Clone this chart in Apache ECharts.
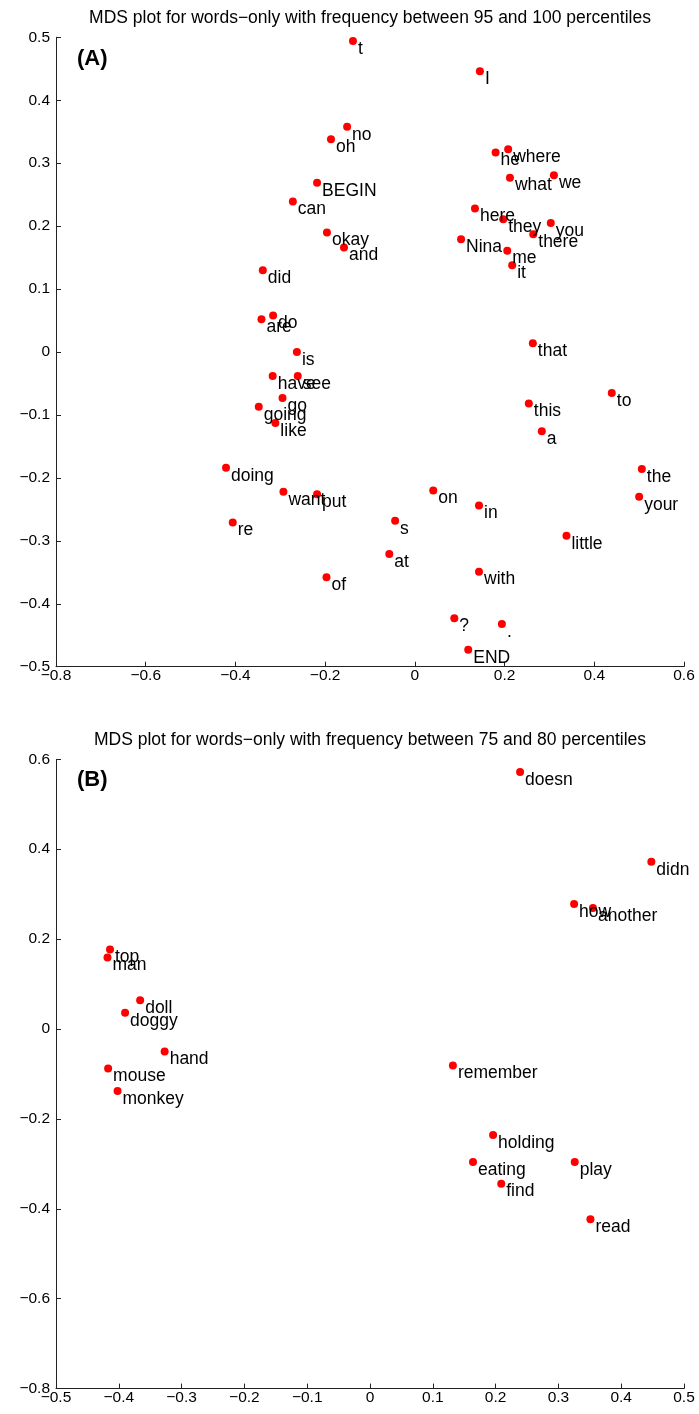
<!DOCTYPE html>
<html>
<head>
<meta charset="utf-8">
<script src="https://cdn.jsdelivr.net/npm/echarts@6/dist/echarts.min.js"></script>
<style>
html,body{margin:0;padding:0;background:#fff;}
#chart{width:699px;height:1414px;}
</style>
</head>
<body>
<div id="chart"></div>
<script>
// ---- Panel A data ----
const titleA = 'MDS plot for words\u2212only with frequency between 95 and 100 percentiles';
const wordsA = ['t','I','no','oh','BEGIN','can','okay','and','did','he','where','what','we','here','they','you','there','Nina','me','it','are','do','is','have','see','go','going','like','doing','that','this','to','a','the','your','on','in','s','little','want','put','re','at','of','with','?','.','END'];
const xA = [-0.138,0.145,-0.151,-0.187,-0.218,-0.272,-0.196,-0.158,-0.339,0.180,0.208,0.212,0.310,0.134,0.197,0.303,0.264,0.103,0.206,0.217,-0.342,-0.316,-0.263,-0.317,-0.261,-0.295,-0.348,-0.311,-0.421,0.263,0.254,0.439,0.283,0.506,0.500,0.041,0.143,-0.044,0.338,-0.293,-0.218,-0.406,-0.057,-0.197,0.143,0.088,0.194,0.119];
const yA = [0.494,0.446,0.358,0.338,0.269,0.239,0.190,0.166,0.130,0.317,0.322,0.277,0.281,0.228,0.211,0.205,0.187,0.179,0.161,0.138,0.052,0.058,0.000,-0.038,-0.038,-0.073,-0.087,-0.113,-0.184,0.014,-0.082,-0.065,-0.126,-0.186,-0.230,-0.220,-0.244,-0.268,-0.292,-0.222,-0.226,-0.271,-0.321,-0.358,-0.349,-0.423,-0.432,-0.473];
const xTicksA = [-0.8,-0.6,-0.4,-0.2,0,0.2,0.4,0.6];
const yTicksA = [-0.5,-0.4,-0.3,-0.2,-0.1,0,0.1,0.2,0.3,0.4,0.5];

// ---- Panel B data ----
const titleB = 'MDS plot for words\u2212only with frequency between 75 and 80 percentiles';
const wordsB = ['doesn','didn','how','another','top','man','doll','doggy','hand','mouse','monkey','remember','holding','eating','play','find','read'];
const xB = [0.239,0.448,0.325,0.355,-0.414,-0.418,-0.366,-0.390,-0.327,-0.417,-0.402,0.132,0.196,0.164,0.326,0.209,0.351];
const yB = [0.572,0.372,0.278,0.269,0.177,0.159,0.064,0.036,-0.050,-0.088,-0.138,-0.081,-0.236,-0.296,-0.296,-0.344,-0.423];
const xTicksB = [-0.5,-0.4,-0.3,-0.2,-0.1,0,0.1,0.2,0.3,0.4,0.5];
const yTicksB = [-0.8,-0.6,-0.4,-0.2,0,0.2,0.4,0.6];

const FONT = '"Liberation Sans", Arial, Helvetica, sans-serif';
const fmt = v => {
  const r = Math.round(v * 10) / 10;
  return (r === 0 ? '0' : String(r)).replace('-', '\u2212');
};
function axisFromTicks(ticks, grid, isX) {
  return {
    type: 'value', gridIndex: grid,
    min: ticks[0], max: ticks[ticks.length - 1],
    interval: Math.round((ticks[1] - ticks[0]) * 10) / 10,
    position: isX ? 'bottom' : 'left',
    axisLine: { show: true, onZero: false, lineStyle: { color: '#222', width: 1 } },
    axisTick: { show: true, inside: true, length: 5, lineStyle: { color: '#222' } },
    splitLine: { show: false },
    axisLabel: {
      color: '#000', fontFamily: FONT, fontSize: 15.5, lineHeight: 15,
      margin: isX ? 2 : 6, formatter: fmt, showMinLabel: true, showMaxLabel: true
    }
  };
}
function makeData(words, xs, ys) {
  return words.map((w, i) => [xs[i], ys[i], w]);
}
function scatter(idx, data) {
  return {
    type: 'scatter', xAxisIndex: idx, yAxisIndex: idx,
    symbol: 'circle', symbolSize: 8,
    itemStyle: { color: '#ff0000', opacity: 1 },
    data: data,
    silent: true,
    label: {
      show: true, position: [9, 3.5], align: 'left', verticalAlign: 'top',
      formatter: p => p.value[2],
      color: '#000', fontFamily: FONT, fontSize: 17.5, lineHeight: 17
    }
  };
}
const chart = echarts.init(document.getElementById('chart'), null, { renderer: 'canvas' });
chart.setOption({
  backgroundColor: '#fff',
  animation: false,
  title: [
    { text: titleA, left: 370, top: 10, textAlign: 'center', padding: 0,
      textStyle: { fontFamily: FONT, fontSize: 17.5, lineHeight: 17, fontWeight: 'normal', color: '#000' } },
    { text: titleB, left: 370, top: 732, textAlign: 'center', padding: 0,
      textStyle: { fontFamily: FONT, fontSize: 17.5, lineHeight: 17, fontWeight: 'normal', color: '#000' } },
    { text: '(A)', left: 77, top: 48, padding: 0,
      textStyle: { fontFamily: FONT, fontSize: 22, lineHeight: 22, fontWeight: 'bold', color: '#000' } },
    { text: '(B)', left: 77, top: 769, padding: 0,
      textStyle: { fontFamily: FONT, fontSize: 22, lineHeight: 22, fontWeight: 'bold', color: '#000' } }
  ],
  grid: [
    { left: 56, top: 37.3, width: 628, height: 629.4 },
    { left: 56, top: 759.3, width: 628, height: 629.3 }
  ],
  xAxis: [axisFromTicks(xTicksA, 0, true), axisFromTicks(xTicksB, 1, true)],
  yAxis: [axisFromTicks(yTicksA, 0, false), axisFromTicks(yTicksB, 1, false)],
  series: [scatter(0, makeData(wordsA, xA, yA)), scatter(1, makeData(wordsB, xB, yB))]
});
</script>
</body>
</html>
